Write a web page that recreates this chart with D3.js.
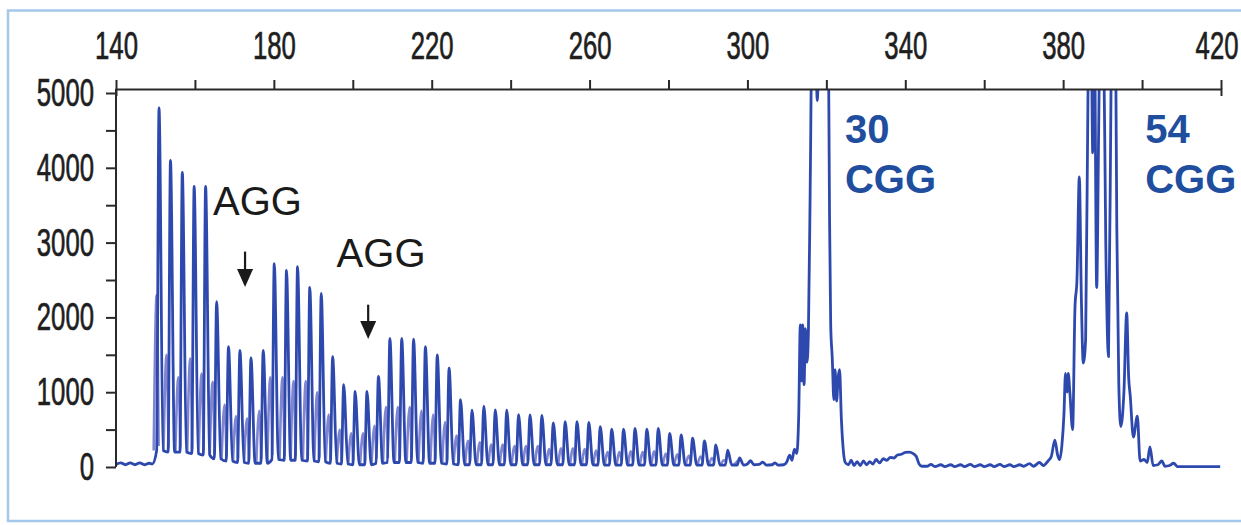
<!DOCTYPE html>
<html>
<head>
<meta charset="utf-8">
<script src="https://cdn.jsdelivr.net/npm/d3@7"></script>
<style>
  body { margin: 0; background: #fff; }
  svg { display: block; }
</style>
</head>
<body>
<div id="chart"></div>
<script>
const width = 1241
const height = 525

// axis ticks: fragment size (bp) on top, signal (RFU) on the left
const sizeTicks = d3.range(140, 421, 20)
const rfuTicks = d3.range(0, 5001, 500)

// CGG repeat ladder, main peaks (bp, RFU)
const ladderBp = [
  150.9, 153.8, 156.8, 159.8, 162.7, 165.5, 168.5, 171.4, 174.2, 177.3,
  180.1, 183.2, 186.0, 189.1, 192.0, 194.9, 197.7, 200.6, 203.6, 206.5,
  209.4, 212.4, 215.4, 218.4, 221.4, 224.4, 227.3, 230.2, 233.2, 236.1,
  239.0, 242.0, 244.9, 247.9, 250.8, 253.8, 256.8, 259.8, 262.7, 265.6,
  268.6, 271.5, 274.5, 277.4, 280.3, 283.2, 286.1, 289.1, 292.0, 295.0,
  298.0
]
const ladderRfu = [
  4800, 4100, 3940, 3750, 3750, 2210, 1610, 1560, 1460, 1560,
  2720, 2630, 2680, 2400, 2320, 1475, 1100, 1010, 1010, 1210,
  1720, 1720, 1710, 1610, 1500, 1320, 900, 760, 815, 765,
  760, 700, 695, 690, 590, 605, 605, 595, 540, 505,
  505, 515, 505, 515, 450, 430, 385, 350, 295, 225,
  120
]
// trough level after each ladder peak
const floorRfu = [
  220, 200, 200, 180, 160, 110, 80, 60, 50, 50,
  100, 90, 90, 80, 70, 50, 40, 30, 30, 50,
  60, 60, 60, 50, 50, 40, 30, 30, 30, 30,
  30, 30, 30, 30, 30, 30, 30, 30, 25, 25,
  25, 25, 25, 25, 25, 25, 25, 25, 25, 25,
  25
]
// stutter shoulders just before each ladder peak (lighter trace)
const shoulderBp = [
  150.3, 152.8, 155.8, 158.8, 161.7, 164.5, 167.5, 170.4, 173.2, 176.3,
  179.1, 182.2, 185.0, 188.1, 191.0, 193.9, 196.7, 199.6, 202.6, 205.5,
  208.4, 211.4, 214.4, 217.4, 220.4, 223.4, 226.3, 229.2, 232.2, 235.1,
  238.0, 241.0, 243.9, 246.9, 249.8, 252.8, 255.8, 258.8, 261.7, 264.6,
  267.6, 270.5, 273.5, 276.4, 279.3, 282.2, 285.1, 288.1, 291.0, 294.0,
  297.0
]
const shoulderRfu = [
  2300, 1500, 1200, 1450, 1250, 1140, 830, 680, 650, 750,
  1200, 1200, 1150, 1150, 1000, 700, 500, 450, 450, 550,
  800, 800, 800, 750, 700, 600, 420, 350, 330, 300,
  300, 280, 280, 280, 240, 250, 250, 240, 220, 200,
  200, 210, 200, 210, 180, 170, 150, 140, 120, 90,
  50
]

// baseline before the ladder
const leadIn = [[140, 35], [141.2, 55], [142.4, 30], [143.6, 55], [144.8, 30], [146, 55], [147.2, 30], [148.4, 50], [149.2, 40]]

// tail of the ladder and the 30 CGG allele
const allele30 = [
  [300.0, 40], [300.8, 85], [301.6, 30], [303.0, 35], [303.9, 65], [304.8, 25], [306.2, 30], [307.0, 55],
  [307.8, 25], [309.2, 30], [310.0, 70], [310.7, 160], [311.3, 90], [311.9, 240], [312.5, 180], [313.0, 700],
  [313.4, 1900], [313.7, 1150], [314.0, 1900], [314.35, 1100], [314.7, 1850], [315.1, 1400], [315.45, 1800],
  [315.9, 3700], [316.5, 6500], [317.2, 6000], [317.7, 4900], [318.2, 6000], [319.4, 8000], [320.4, 6500],
  [320.8, 3400], [321.1, 1900], [321.5, 1450], [321.9, 900], [322.2, 1300], [322.6, 880], [323.0, 1200],
  [323.35, 1300], [323.8, 650], [324.3, 220], [324.8, 60]
]

// baseline between the two alleles
const midBaseline = [
  [325.6, 30], [326.3, 90], [327.0, 20], [327.8, 70], [328.6, 20], [329.4, 80], [330.2, 30], [331.0, 70],
  [331.8, 40], [332.6, 100], [333.5, 55], [334.4, 110], [335.3, 90], [336.2, 130], [337.1, 120], [338.0, 160],
  [339.0, 170], [340.0, 195], [341.0, 200], [342.0, 180], [342.8, 140], [343.5, 40], [344.2, 10], [345.5, 10],
  [346.5, 35], [347.5, 5], [349, 30], [350, 5], [351.5, 30], [352.5, 5], [354, 30], [355, 5], [356.5, 35],
  [357.5, 5], [359, 30], [360, 5], [361.5, 30], [362.5, 5], [364, 35], [365, 5], [366.5, 30], [367.5, 5],
  [369, 30], [370, 10], [371.5, 45], [372.5, 10], [374, 60], [375, 20], [376.3, 90], [377.0, 140],
  [377.9, 360], [378.6, 160], [379.1, 100]
]

// the 54 CGG allele and the end of the run
const allele54 = [
  [379.7, 300], [380.2, 700], [380.6, 1250], [381.0, 1000], [381.3, 1250], [381.7, 1000], [382.4, 500],
  [383.0, 2140], [383.5, 2500], [384.1, 3880], [384.6, 2300], [385.1, 1390], [385.7, 1700], [386.4, 5600],
  [387.0, 6500], [387.5, 4200], [387.9, 6000], [388.5, 2400], [389.0, 4500], [389.5, 6500], [390.2, 6000],
  [390.8, 3000], [391.5, 1475], [392.2, 5500], [393.0, 7500], [393.6, 3200], [394.1, 1120], [394.6, 540],
  [395.4, 1000], [396.1, 2060], [396.6, 1200], [397.0, 950], [397.8, 400], [398.8, 680], [399.5, 80],
  [400.5, 100], [401.3, 60], [402.0, 270], [402.8, 20], [404.0, 30], [405.0, 80], [405.8, 10], [407.0, 20],
  [408.0, 50], [409.0, 5], [411, 5], [414, 5], [417, 5], [419.8, 5]
]

// annotations
const aggNotes = [
  { text: "AGG", bp: 164.6, rfu: 3370 },
  { text: "AGG", bp: 195.9, rfu: 2675 }
]
const aggArrows = [
  { bp: 172.7, from: 2880, to: 2405 },
  { bp: 203.9, from: 2170, to: 1710 }
]
const alleleNotes = [
  { repeats: "30", bp: 324.7 },
  { repeats: "54", bp: 400.8 }
]

const x = d3.scaleLinear().domain([140, 420]).range([116, 1221])
const y = d3.scaleLinear().domain([0, 5000]).range([467, 93])

const svg = d3.select("#chart")
  .append("svg")
    .attr("width", width)
    .attr("height", height)
    .style("font-family", "'Liberation Sans', Arial, sans-serif")

svg.append("rect")
  .attr("width", width).attr("height", height)
  .attr("fill", "#fff")

// light blue window frame
svg.append("rect")
  .attr("x", 8).attr("y", 10.5)
  .attr("width", width).attr("height", 510.5)
  .attr("fill", "none")
  .attr("stroke", "#a3c8ea")
  .attr("stroke-width", 2.5)

const defs = svg.append("defs")
defs.append("clipPath").attr("id", "plot-clip")
  .append("rect")
    .attr("x", 110).attr("y", 90)
    .attr("width", 1115).attr("height", 400)
// the scan is a little soft
defs.append("filter").attr("id", "soft")
  .append("feGaussianBlur").attr("stdDeviation", 0.55)

// build the traces from the peak lists
const mainTrace = leadIn.slice()
ladderBp.forEach((bp, i) => {
  mainTrace.push([bp - 0.6, floorRfu[i]], [bp, ladderRfu[i]], [bp + 1.05, floorRfu[i]])
})
const fullTrace = mainTrace.concat(allele30, midBaseline, allele54)

const shoulders = shoulderBp.map((bp, i) => [
  [bp - 0.75, floorRfu[Math.max(i - 1, 0)]], [bp, shoulderRfu[i]], [bp + 0.5, floorRfu[i] + 60]
])

const line = d3.line()
  .x(d => x(d[0]))
  .y(d => y(d[1]))
  .curve(d3.curveMonotoneX)

const plot = svg.append("g")
  .attr("clip-path", "url(#plot-clip)")
  .append("g")
  .attr("filter", "url(#soft)")

plot.selectAll(".shoulder")
  .data(shoulders)
  .join("path")
    .attr("class", "shoulder")
    .attr("d", line)
    .attr("fill", "none")
    .attr("stroke", "#8085cf")
    .attr("stroke-width", 2.6)
    .attr("stroke-linejoin", "round")

plot.append("path")
  .datum(fullTrace)
  .attr("d", line)
  .attr("fill", "none")
  .attr("stroke", "#2f49ae")
  .attr("stroke-width", 2.8)
  .attr("stroke-linejoin", "round")

// axes
function styleAxis(g) {
  g.selectAll("line, path").attr("stroke", "#2a2a2a").attr("stroke-width", 2)
  g.selectAll("text")
    .attr("fill", "#1e1e1e")
    .attr("stroke", "#1e1e1e")
    .attr("stroke-width", 0.7)
    .style("font-size", "39px")
    .style("font-family", "'Liberation Sans', Arial, sans-serif")
    .filter(function() { return this.textContent.length > 0 })
    .attr("textLength", function() { return this.textContent.length * 14.3 })
    .attr("lengthAdjust", "spacingAndGlyphs")
}

const topAxis = d3.axisTop(x)
  .tickValues(sizeTicks)
  .tickSize(9)
  .tickSizeOuter(-7)
  .tickPadding(21)
  .tickFormat(d => (d - 140) % 40 === 0 ? d : "")

const topG = svg.append("g")
  .attr("transform", "translate(0,89)")
  .call(topAxis)
  .call(styleAxis)
// last label sits against the window edge
topG.selectAll(".tick text").filter(d => d === 420).attr("text-anchor", "end").attr("x", 17)

const leftAxis = d3.axisLeft(y)
  .tickValues(rfuTicks)
  .tickSize(10)
  .tickSizeOuter(0)
  .tickPadding(12)
  .tickFormat(d => d % 1000 === 0 ? d : "")

const leftG = svg.append("g")
  .attr("transform", "translate(116,0)")
  .call(leftAxis)
leftG.select(".domain").remove()
leftG.append("line")
  .attr("y1", y(0)).attr("y2", 89)
leftG.call(styleAxis)

// AGG interruptions
svg.selectAll(".agg")
  .data(aggNotes)
  .join("text")
    .attr("class", "agg")
    .attr("x", d => x(d.bp))
    .attr("y", d => y(d.rfu))
    .attr("fill", "#1a1a1a")
    .style("font-size", "40px")
    .text(d => d.text)

const arrows = svg.selectAll(".arrow")
  .data(aggArrows)
  .join("g")
    .attr("class", "arrow")
    .attr("transform", d => `translate(${x(d.bp)},0)`)

arrows.append("line")
  .attr("y1", d => y(d.from))
  .attr("y2", d => y(d.to) - 16)
  .attr("stroke", "#1a1a1a")
  .attr("stroke-width", 2.2)

arrows.append("path")
  .attr("d", d => `M-8,${y(d.to) - 18}L8,${y(d.to) - 18}L0,${y(d.to)}Z`)
  .attr("fill", "#1a1a1a")

// allele labels
const alleleText = svg.selectAll(".allele")
  .data(alleleNotes)
  .join("text")
    .attr("class", "allele")
    .attr("fill", "#1f4e9f")
    .style("font-size", "40px")
    .style("font-weight", "bold")

alleleText.append("tspan")
  .attr("x", d => x(d.bp))
  .attr("y", y(4330))
  .text(d => d.repeats)

alleleText.append("tspan")
  .attr("x", d => x(d.bp))
  .attr("y", y(3665))
  .text("CGG")
</script>
</body>
</html>
